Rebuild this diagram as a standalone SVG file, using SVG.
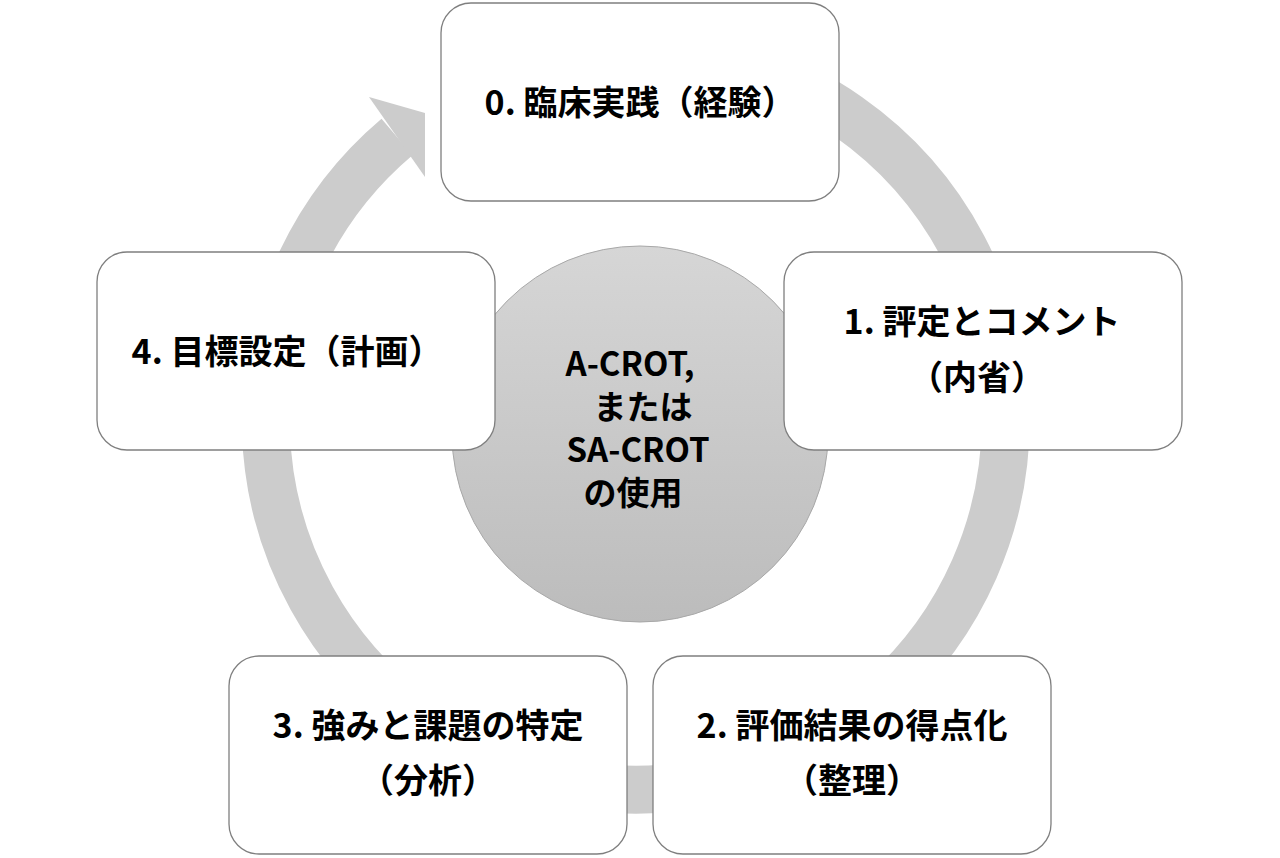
<svg xmlns="http://www.w3.org/2000/svg" width="1280" height="858" viewBox="0 0 1280 858">
<style>
.box{fill:#fff;stroke:#7f7f7f;stroke-width:1.3}
.t{font-family:"Noto Sans CJK JP","Noto Sans",sans-serif;font-weight:bold;font-size:34px;fill:#000;text-anchor:middle}
.c{font-size:33px}
</style>
<defs>
<linearGradient id="g" x1="0" y1="0" x2="0" y2="1"><stop offset="0" stop-color="#d6d6d6"/><stop offset="1" stop-color="#bcbcbc"/></linearGradient>
</defs>
<rect width="1280" height="858" fill="#fff"/>
<g id="connectors">
<path d="M704,56 A370,370 0 1 1 397,137" fill="none" stroke="#cccccc" stroke-width="48"/>
<polygon points="369,97 425,113 425,177" fill="#cccccc"/>
</g>
<g id="center">
<circle cx="640" cy="434" r="188" fill="url(#g)" stroke="#a8a8a8" stroke-width="1"/>
<text class="t c" x="630" y="376">A-CROT,</text>
<text class="t c" x="643" y="419">または</text>
<text class="t c" x="638" y="462">SA-CROT</text>
<text class="t c" x="633" y="505">の使用</text>
</g>
<g id="n0"><rect class="box" x="441" y="3" width="398" height="198" rx="30"/><text class="t" x="640" y="115">0. 臨床実践（経験）</text></g>
<g id="n1"><rect class="box" x="784" y="252" width="398" height="198" rx="30"/><text class="t" x="982" y="334">1. 評定とコメント</text><text class="t" x="977" y="390">（内省）</text></g>
<g id="n2"><rect class="box" x="653" y="656" width="398" height="198" rx="30"/><text class="t" x="852" y="738">2. 評価結果の得点化</text><text class="t" x="852" y="793">（整理）</text></g>
<g id="n3"><rect class="box" x="229" y="656" width="398" height="198" rx="30"/><text class="t" x="428" y="738">3. 強みと課題の特定</text><text class="t" x="428" y="793">（分析）</text></g>
<g id="n4"><rect class="box" x="97" y="252" width="398" height="198" rx="30"/><text class="t" x="287" y="364">4. 目標設定（計画）</text></g>
</svg>
